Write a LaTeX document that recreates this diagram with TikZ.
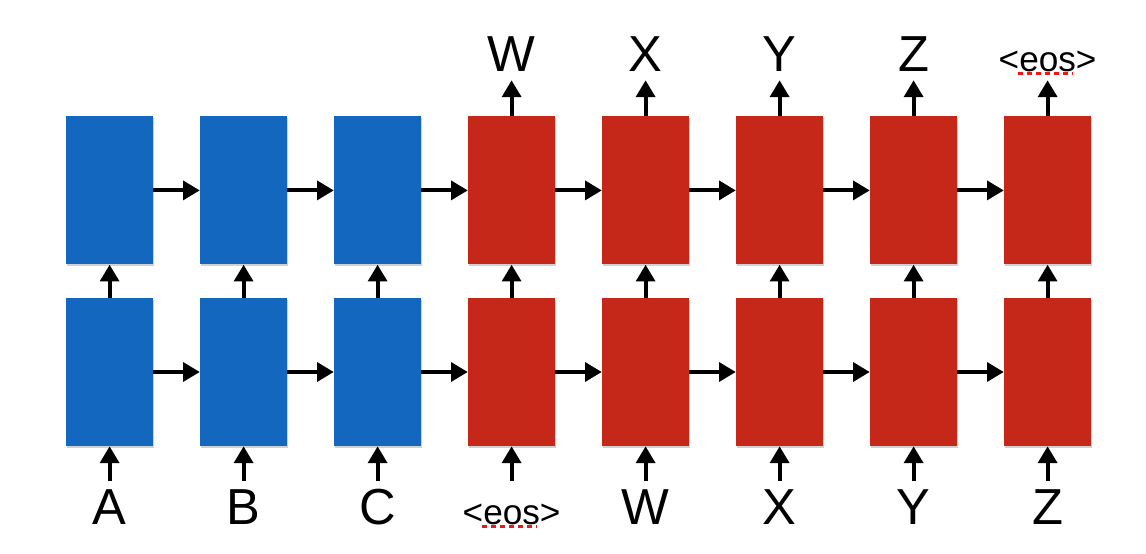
\documentclass[tikz,border=0pt]{standalone}
\usepackage{fontspec}
\setmainfont{Liberation Sans}
\usetikzlibrary{arrows.meta,shadows}
\definecolor{encblue}{RGB}{19, 103, 190}
\definecolor{decred}{RGB}{197, 40, 24}
\definecolor{spell}{RGB}{245, 20, 20}
\tikzset{
    cell/.style={rectangle, inner sep=0, minimum width=2.175cm, minimum height=3.7cm,
        drop shadow={shadow xshift=0.25mm, shadow yshift=-0.45mm, opacity=0.18, fill=black}},
    encbox/.style={cell, fill=encblue},
    decbox/.style={cell, fill=decred},
    arr/.style={-{Triangle[length=0.42cm, width=0.47cm]}, line width=0.1cm},
    word/.style={anchor=base, inner sep=0.2cm, text height=0.9cm, text depth=0pt,
        font=\fontsize{36}{40}\selectfont},
    tag/.style={word, font=\fontsize{25}{30}\selectfont},
    squiggle/.style={draw=spell, line width=1.8pt, dash pattern=on 3.6pt off 2.8pt}
}
\begin{document}
\begin{tikzpicture}
        \useasboundingbox (0, 0) rectangle (28.65, 13.85);
        % lower layer
        \node[encbox] (l1) at (2.74, 4.55) {};
        \node[encbox] (l2) at (6.09, 4.55) {};
        \node[encbox] (l3) at (9.44, 4.55) {};
        \node[decbox] (l4) at (12.79, 4.55) {};
        \node[decbox] (l5) at (16.14, 4.55) {};
        \node[decbox] (l6) at (19.49, 4.55) {};
        \node[decbox] (l7) at (22.84, 4.55) {};
        \node[decbox] (l8) at (26.19, 4.55) {};
        % upper layer
        \node[encbox] (u1) at (2.74, 9.09) {};
        \node[encbox] (u2) at (6.09, 9.09) {};
        \node[encbox] (u3) at (9.44, 9.09) {};
        \node[decbox] (u4) at (12.79, 9.09) {};
        \node[decbox] (u5) at (16.14, 9.09) {};
        \node[decbox] (u6) at (19.49, 9.09) {};
        \node[decbox] (u7) at (22.84, 9.09) {};
        \node[decbox] (u8) at (26.19, 9.09) {};
        % inputs
        \node[word] (i1) at (2.74, 0.725) {A};
        \node[word] (i2) at (6.09, 0.725) {B};
        \node[word] (i3) at (9.44, 0.725) {C};
        \node[tag] (i4) at (12.79, 0.725) {<eos>};
        \node[word] (i5) at (16.14, 0.725) {W};
        \node[word] (i6) at (19.49, 0.725) {X};
        \node[word] (i7) at (22.84, 0.725) {Y};
        \node[word] (i8) at (26.19, 0.725) {Z};
        % outputs
        \node[word] (o4) at (12.79, 12.05) {W};
        \node[word] (o5) at (16.14, 12.05) {X};
        \node[word] (o6) at (19.49, 12.05) {Y};
        \node[word] (o7) at (22.84, 12.05) {Z};
        \node[tag] (o8) at (26.19, 12.05) {<eos>};
        \path[squiggle] ([xshift=-0.75cm, yshift=-1pt]i4.base) -- ([xshift=0.62cm, yshift=-1pt]i4.base);
        \path[squiggle] ([xshift=-0.75cm, yshift=-1pt]o8.base) -- ([xshift=0.62cm, yshift=-1pt]o8.base);
        % recurrence
        \draw[arr] (l1.east) -- (l2.west);
        \draw[arr] (l2.east) -- (l3.west);
        \draw[arr] (l3.east) -- (l4.west);
        \draw[arr] (l4.east) -- (l5.west);
        \draw[arr] (l5.east) -- (l6.west);
        \draw[arr] (l6.east) -- (l7.west);
        \draw[arr] (l7.east) -- (l8.west);
        \draw[arr] (u1.east) -- (u2.west);
        \draw[arr] (u2.east) -- (u3.west);
        \draw[arr] (u3.east) -- (u4.west);
        \draw[arr] (u4.east) -- (u5.west);
        \draw[arr] (u5.east) -- (u6.west);
        \draw[arr] (u6.east) -- (u7.west);
        \draw[arr] (u7.east) -- (u8.west);
        % between layers
        \draw[arr] (l1.north) -- (u1.south);
        \draw[arr] (l2.north) -- (u2.south);
        \draw[arr] (l3.north) -- (u3.south);
        \draw[arr] (l4.north) -- (u4.south);
        \draw[arr] (l5.north) -- (u5.south);
        \draw[arr] (l6.north) -- (u6.south);
        \draw[arr] (l7.north) -- (u7.south);
        \draw[arr] (l8.north) -- (u8.south);
        % in and out
        \draw[arr] (i1.north) -- (l1.south);
        \draw[arr] (i2.north) -- (l2.south);
        \draw[arr] (i3.north) -- (l3.south);
        \draw[arr] (i4.north) -- (l4.south);
        \draw[arr] (i5.north) -- (l5.south);
        \draw[arr] (i6.north) -- (l6.south);
        \draw[arr] (i7.north) -- (l7.south);
        \draw[arr] (i8.north) -- (l8.south);
        \draw[arr] (u4.north) -- (o4.south);
        \draw[arr] (u5.north) -- (o5.south);
        \draw[arr] (u6.north) -- (o6.south);
        \draw[arr] (u7.north) -- (o7.south);
        \draw[arr] (u8.north) -- (o8.south);
    \end{tikzpicture}
\end{document}
